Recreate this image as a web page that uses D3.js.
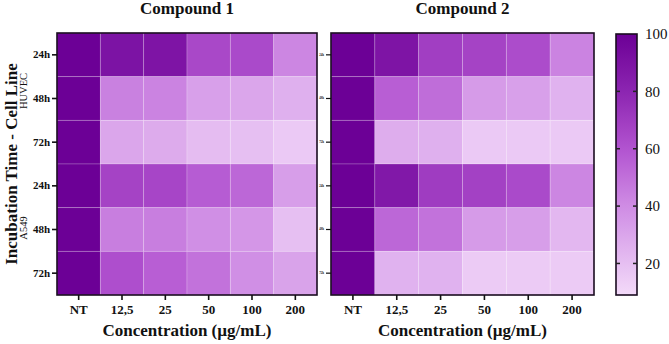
<!DOCTYPE html>
<html>
<head>
<meta charset="utf-8">
<script src="https://cdn.jsdelivr.net/npm/d3@7"></script>
<style>
  body { margin: 0; background: #fff; }
  svg { display: block; }
  text { font-family: "Liberation Serif", "Times New Roman", serif; fill: #111; }
</style>
</head>
<body>
<div id="chart"></div>
<script>
// concentrations (columns) and incubation rows, top to bottom
var concentrations = ["NT", "12,5", "25", "50", "100", "200"];
var rowLabels = ["24h", "48h", "72h", "24h", "48h", "72h"];
var cellLines = ["HUVEC", "A549"];
var titles = ["Compound 1", "Compound 2"];

// viability (%), rows: HUVEC 24/48/72, A549 24/48/72
var compound1 = [
  [100, 90, 89, 65, 64, 42],
  [100, 44, 43, 32, 30, 26],
  [100, 30, 28, 21, 20, 16],
  [100, 67, 66, 57, 53, 33],
  [100, 45, 45, 39, 36, 20],
  [100, 62, 56, 49, 39, 31]
];
var compound2 = [
  [100, 89, 69, 67, 63, 43],
  [100, 56, 51, 34, 32, 25],
  [100, 27, 26, 16, 16, 16],
  [100, 87, 70, 68, 64, 42],
  [100, 53, 49, 34, 33, 23],
  [100, 25, 25, 15, 15, 15]
];

var colorTicks = [20, 40, 60, 80, 100];
var colorDomain = [9, 100];

var W = 669, H = 344;
var SERIF = "'Liberation Serif', 'Times New Roman', serif";
var svg = d3.select("#chart").append("svg")
  .attr("width", W)
  .attr("height", H);

var color = d3.scaleLinear()
  .domain([9, 20, 40, 60, 80, 100])
  .range(["#f3daf9", "#e6bff2", "#cf8ce4", "#b253d0", "#8c25b1", "#6c0096"])
  .interpolate(d3.interpolateRgb);

var plotTop = 33, plotBottom = 295;
var panels = [
  { data: compound1, x0: 57, x1: 317, title: titles[0], showLabels: true },
  { data: compound2, x0: 331, x1: 594, title: titles[1], showLabels: false }
];

var y = d3.scaleBand()
  .domain(d3.range(rowLabels.length))
  .range([plotTop, plotBottom])
  .padding(0);

panels.forEach(function (p) {
  var x = d3.scaleBand()
    .domain(concentrations)
    .range([p.x0, p.x1])
    .padding(0);

  var g = svg.append("g");

  p.data.forEach(function (row, i) {
    g.selectAll(null)
      .data(row)
      .enter().append("rect")
      .attr("x", function (d, j) { return x(concentrations[j]); })
      .attr("y", y(i))
      .attr("width", x.bandwidth())
      .attr("height", y.bandwidth())
      .attr("fill", function (d) { return color(d); })
      .attr("stroke", "rgba(255,255,255,0.25)")
      .attr("stroke-width", 0.8);
  });

  g.append("rect")
    .attr("x", p.x0)
    .attr("y", plotTop)
    .attr("width", p.x1 - p.x0)
    .attr("height", plotBottom - plotTop)
    .attr("fill", "none")
    .attr("stroke", "#1a0c20")
    .attr("stroke-width", 1.6);

  // x axis
  var xAxis = svg.append("g")
    .attr("transform", "translate(0," + plotBottom + ")")
    .call(d3.axisBottom(x).tickSize(5).tickPadding(5));
  xAxis.select(".domain").remove();
  xAxis.selectAll("line").attr("stroke", "#111").attr("stroke-width", 1.6);
  xAxis.selectAll("text")
    .attr("font-family", SERIF)
    .attr("font-size", 13)
    .attr("font-weight", "bold")
    .attr("fill", "#111");

  svg.append("text")
    .attr("x", (p.x0 + p.x1) / 2)
    .attr("y", 336)
    .attr("text-anchor", "middle")
    .style("font-size", "17px")
    .style("font-weight", "bold")
    .text("Concentration (\u00b5g/mL)");

  svg.append("text")
    .attr("x", (p.x0 + p.x1) / 2)
    .attr("y", 14)
    .attr("text-anchor", "middle")
    .style("font-size", "17px")
    .style("font-weight", "bold")
    .text(p.title);

  // y axis
  var yAxis = svg.append("g")
    .attr("transform", "translate(" + p.x0 + ",0)")
    .call(d3.axisLeft(y).tickSize(5).tickPadding(2)
      .tickFormat(function (d) { return rowLabels[d]; }));
  yAxis.select(".domain").remove();
  yAxis.selectAll("line").attr("stroke", "#111").attr("stroke-width", p.showLabels ? 1.6 : 1.2);
  yAxis.selectAll("text")
    .attr("font-family", SERIF)
    .attr("font-size", p.showLabels ? 11 : 3)
    .attr("font-weight", "bold")
    .attr("fill", "#111");
});

// y axis title and cell line labels
svg.append("text")
  .attr("transform", "translate(17,164) rotate(-90)")
  .attr("text-anchor", "middle")
  .style("font-size", "17px")
  .style("font-weight", "bold")
  .text("Incubation Time - Cell Line");

svg.append("text")
  .attr("transform", "translate(27,91) rotate(-90)")
  .attr("text-anchor", "middle")
  .style("font-size", "10.5px")
  .text(cellLines[0]);

svg.append("text")
  .attr("transform", "translate(27,228) rotate(-90)")
  .attr("text-anchor", "middle")
  .style("font-size", "10.5px")
  .text(cellLines[1]);

// colour bar
var cbX = 616, cbW = 21, cbTop = 34, cbBottom = 295;
var cbScale = d3.scaleLinear().domain(colorDomain).range([cbBottom, cbTop]);

var grad = svg.append("defs").append("linearGradient")
  .attr("id", "cbgrad")
  .attr("x1", "0").attr("y1", "1").attr("x2", "0").attr("y2", "0");
d3.range(0, 1.0001, 0.05).forEach(function (t) {
  var v = colorDomain[0] + t * (colorDomain[1] - colorDomain[0]);
  grad.append("stop").attr("offset", t).attr("stop-color", color(v));
});

svg.append("rect")
  .attr("x", cbX)
  .attr("y", cbTop)
  .attr("width", cbW)
  .attr("height", cbBottom - cbTop)
  .attr("fill", "url(#cbgrad)")
  .attr("stroke", "#1a0c20")
  .attr("stroke-width", 1.6);

var cb = svg.append("g");
cb.selectAll(".tl")
  .data(colorTicks.filter(function (d) { return d < 100; }))
  .enter().append("line")
  .attr("x1", cbX).attr("x2", cbX + 4)
  .attr("y1", function (d) { return cbScale(d); })
  .attr("y2", function (d) { return cbScale(d); })
  .attr("stroke", "#222").attr("stroke-width", 1.5);
cb.selectAll(".tr")
  .data(colorTicks.filter(function (d) { return d < 100; }))
  .enter().append("line")
  .attr("x1", cbX + cbW - 4).attr("x2", cbX + cbW)
  .attr("y1", function (d) { return cbScale(d); })
  .attr("y2", function (d) { return cbScale(d); })
  .attr("stroke", "#222").attr("stroke-width", 1.5);
cb.selectAll("text")
  .data(colorTicks)
  .enter().append("text")
  .attr("x", 645)
  .attr("y", function (d) { return cbScale(d); })
  .attr("dy", "0.35em")
  .style("font-size", "15px")
  .text(function (d) { return d; });
</script>
</body>
</html>
